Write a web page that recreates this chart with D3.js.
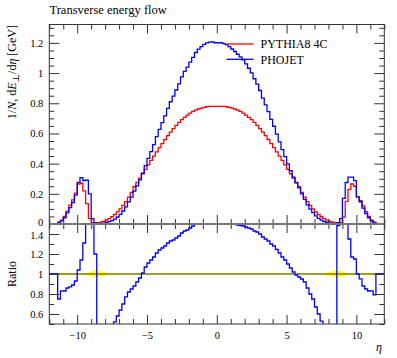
<!DOCTYPE html>
<html><head><meta charset="utf-8">
<script src="https://cdn.jsdelivr.net/npm/d3@7"></script>
<style>body{margin:0;background:#fff} svg{display:block}</style>
</head><body>
<svg id="c" width="397" height="358"></svg>
<script>
// bin edges in eta (0.2 wide)
const etaEdges = [-12,-11.8,-11.6,-11.4,-11.2,-11,-10.8,-10.6,-10.4,-10.2,-10,-9.8,-9.6,-9.4,-9.2,-9,-8.8,-8.6,-8.4,-8.2,
-8,-7.8,-7.6,-7.4,-7.2,-7,-6.8,-6.6,-6.4,-6.2,-6,-5.8,-5.6,-5.4,-5.2,-5,-4.8,-4.6,-4.4,-4.2,
-4,-3.8,-3.6,-3.4,-3.2,-3,-2.8,-2.6,-2.4,-2.2,-2,-1.8,-1.6,-1.4,-1.2,-1,-0.8,-0.6,-0.4,-0.2,
0,0.2,0.4,0.6,0.8,1,1.2,1.4,1.6,1.8,2,2.2,2.4,2.6,2.8,3,3.2,3.4,3.6,3.8,
4,4.2,4.4,4.6,4.8,5,5.2,5.4,5.6,5.8,6,6.2,6.4,6.6,6.8,7,7.2,7.4,7.6,7.8,
8,8.2,8.4,8.6,8.8,9,9.2,9.4,9.6,9.8,10,10.2,10.4,10.6,10.8,11,11.2,11.4,11.6,11.8,12];

const pythia = [0,0,0,0.012,0.025,0.05,0.085,0.125,0.16,0.205,0.265,0.27,0.22,0.135,0.035,0.008,0.006,0.009,0.012,0.018,
0.026,0.036,0.048,0.063,0.08,0.1,0.123,0.148,0.178,0.21,0.247,0.275,0.304,0.333,0.362,0.392,0.421,0.45,0.478,0.506,
0.533,0.56,0.585,0.609,0.632,0.653,0.673,0.691,0.707,0.722,0.735,0.746,0.755,0.762,0.768,0.773,0.777,0.779,0.78,0.78,
0.78,0.78,0.779,0.777,0.773,0.768,0.762,0.755,0.746,0.735,0.722,0.707,0.691,0.673,0.653,0.632,0.609,0.585,0.56,0.533,
0.506,0.478,0.45,0.421,0.392,0.362,0.333,0.304,0.275,0.247,0.21,0.178,0.148,0.123,0.1,0.08,0.063,0.048,0.036,0.026,
0.018,0.012,0.009,0.006,0.01,0.045,0.15,0.23,0.265,0.25,0.18,0.155,0.12,0.082,0.05,0.026,0.012,0,0,0];

const phojet = [0,0,0,0.009,0.0208,0.0415,0.0731,0.1088,0.1424,0.1907,0.2756,0.3078,0.2882,0.29,0.2,0.036,0.0072,0.0027,0.0036,0.0061,
0.0099,0.0151,0.0226,0.0328,0.0464,0.064,0.0861,0.114,0.146,0.1785,0.2174,0.253,0.2918,0.3363,0.3873,0.4351,0.4799,0.5265,0.5784,0.6274,
0.6716,0.7168,0.7664,0.81,0.8469,0.8881,0.9287,0.9743,1.011,1.0397,1.0731,1.1041,1.1363,1.1582,1.175,1.1904,1.2005,1.2055,1.206,1.2012,
1.2012,1.2012,1.1958,1.1888,1.175,1.1597,1.143,1.125,1.1078,1.0878,1.0613,1.0322,1.002,0.9624,0.9273,0.8848,0.8343,0.7898,0.7448,0.6929,
0.6477,0.5951,0.5445,0.4926,0.4469,0.3982,0.353,0.3101,0.2723,0.2396,0.1995,0.1638,0.1273,0.0984,0.075,0.0536,0.0378,0.0254,0.0166,0.0104,
0.0063,0.0036,0.003,0.0089,0.035,0.17,0.275,0.3105,0.31,0.2875,0.18,0.1473,0.1056,0.0697,0.0415,0.0216,0.0095,0,0,0];

const pythiaRelErr = [0,0,0,0.012,0.01,0.008,0.007,0.007,0.007,0.007,0.007,0.007,0.009,0.012,0.02,0.03,0.038,0.035,0.028,0.02,
0.015,0.011,0.008,0.006,0.005,0.003,0.003,0.003,0.003,0.003,0.003,0.003,0.003,0.003,0.003,0.003,0.003,0.003,0.003,0.003,
0.003,0.003,0.003,0.003,0.003,0.003,0.003,0.003,0.003,0.003,0.003,0.003,0.003,0.003,0.003,0.003,0.003,0.003,0.003,0.003,
0.003,0.003,0.003,0.003,0.003,0.003,0.003,0.003,0.003,0.003,0.003,0.003,0.003,0.003,0.003,0.003,0.003,0.003,0.003,0.003,
0.003,0.003,0.003,0.003,0.003,0.003,0.003,0.003,0.003,0.003,0.003,0.003,0.003,0.003,0.003,0.005,0.006,0.008,0.011,0.015,
0.02,0.028,0.035,0.038,0.03,0.02,0.012,0.009,0.007,0.007,0.007,0.007,0.007,0.007,0.008,0.01,0.012,0,0,0];

const seriesNames = ["PYTHIA8 4C", "PHOJET"];
const seriesColors = ["#ff0000", "#0000ff"];
const xTickLabels = [-10, -5, 0, 5, 10];
const xMinorTicks = [-12,-11,-9,-8,-7,-6,-4,-3,-2,-1,1,2,3,4,6,7,8,9,11,12];
const yTickLabels = [0, 0.2, 0.4, 0.6, 0.8, 1, 1.2];
const yMinorTicks = [0.05,0.1,0.15,0.25,0.3,0.35,0.45,0.5,0.55,0.65,0.7,0.75,0.85,0.9,0.95,1.05,1.1,1.15,1.25,1.3];
const ratioTickLabels = [0.6, 0.8, 1, 1.2, 1.4];
const ratioMinorTicks = [0.5,0.7,0.9,1.1,1.3,1.5];

const L = 49.3, R = 384.3, T = 24.5, M = 224, B = 324;
const FONT = "'Liberation Serif', 'DejaVu Serif', serif";
const svg = d3.select("#c");
const x = d3.scaleLinear().domain([-12, 12]).range([L, R]);
const y = d3.scaleLinear().domain([0, 1.322]).range([M, T]);
const yr = d3.scaleLinear().domain([0.5, 1.5]).range([B, M]);

const fmtX = d => d < 0 ? "\u2212" + (-d) : String(d);
const fmtY = d => String(d);

function stepPoints(vals, sy) {
  const pts = [];
  vals.forEach((v, i) => { pts.push([x(etaEdges[i]), sy(v)]); pts.push([x(etaEdges[i + 1]), sy(v)]); });
  return pts;
}
const line = d3.line();

svg.append("defs").append("clipPath").attr("id", "rclip")
  .append("rect").attr("x", L).attr("y", M).attr("width", R - L).attr("height", B - M);

// ratio data
const ratio = phojet.map((v, i) => pythia[i] > 0 ? v / pythia[i] : 1);

// ----- ratio panel -----
const rg = svg.append("g").attr("clip-path", "url(#rclip)");
const bandArea = d3.area().x(d => d[0]).y0(d => d[1]).y1(d => d[2]);
const bandPts = [];
pythiaRelErr.forEach((e, i) => {
  bandPts.push([x(etaEdges[i]), yr(1 - e), yr(1 + e)]);
  bandPts.push([x(etaEdges[i + 1]), yr(1 - e), yr(1 + e)]);
});
rg.append("path").attr("d", bandArea(bandPts)).attr("fill", "#ffff33").attr("stroke", "none");
rg.append("line").attr("x1", L).attr("x2", R).attr("y1", yr(1)).attr("y2", yr(1))
  .attr("stroke", "#7f7f00").attr("stroke-width", 1.3);
rg.append("path").attr("d", line(stepPoints(ratio, yr))).attr("fill", "none")
  .attr("stroke", seriesColors[1]).attr("stroke-width", 1.3);

// ----- main panel -----
[pythia, phojet].forEach((vals, k) => {
  svg.append("path").attr("d", line(stepPoints(vals, y))).attr("fill", "none")
    .attr("stroke", seriesColors[k]).attr("stroke-width", 1.3);
});

// ----- axes (ticks pointing inward) -----
function styleAxis(g) {
  g.select(".domain").remove();
  g.selectAll("line").attr("stroke", "#333").attr("stroke-width", 1);
  g.selectAll("text").attr("font-family", FONT).attr("font-size", 10.5).attr("fill", "#000");
}
function addAxis(axisFn, scale, vals, size, pos, fmt) {
  const a = axisFn(scale).tickValues(vals).tickSize(-size).tickPadding(6)
    .tickFormat(fmt || (() => ""));
  const g = svg.append("g").attr("transform", pos).call(a);
  styleAxis(g);
  return g;
}
// main panel
const yl0 = addAxis(d3.axisLeft, y, yTickLabels, 10, `translate(${L},0)`, fmtY);
yl0.selectAll("text").filter(d => d === 0).attr("dy", "0.1em");
addAxis(d3.axisLeft, y, yMinorTicks, 5, `translate(${L},0)`);
addAxis(d3.axisRight, y, yTickLabels, 10, `translate(${R},0)`);
addAxis(d3.axisRight, y, yMinorTicks, 5, `translate(${R},0)`);
addAxis(d3.axisTop, x, xTickLabels, 9, `translate(0,${T})`);
addAxis(d3.axisTop, x, xMinorTicks, 5, `translate(0,${T})`);
addAxis(d3.axisBottom, x, xTickLabels, 9, `translate(0,${M})`);
addAxis(d3.axisBottom, x, xMinorTicks, 5, `translate(0,${M})`);
// ratio panel
const rl0 = addAxis(d3.axisLeft, yr, ratioTickLabels, 10, `translate(${L},0)`, fmtY);
rl0.selectAll("text").filter(d => d === 1.4).attr("dy", "0.45em");
addAxis(d3.axisLeft, yr, ratioMinorTicks, 5, `translate(${L},0)`);
addAxis(d3.axisRight, yr, ratioTickLabels, 10, `translate(${R},0)`);
addAxis(d3.axisRight, yr, ratioMinorTicks, 5, `translate(${R},0)`);
addAxis(d3.axisTop, x, xTickLabels, 9, `translate(0,${M})`);
addAxis(d3.axisTop, x, xMinorTicks, 5, `translate(0,${M})`);
const xb = addAxis(d3.axisBottom, x, xTickLabels, 9, `translate(0,${B})`, fmtX);
xb.selectAll("text").attr("dy", null).attr("y", 14.5);
addAxis(d3.axisBottom, x, xMinorTicks, 5, `translate(0,${B})`);

// frames
svg.append("rect").attr("x", L).attr("y", T).attr("width", R - L).attr("height", M - T)
  .attr("fill", "none").attr("stroke", "#333").attr("stroke-width", 1);
svg.append("rect").attr("x", L).attr("y", M).attr("width", R - L).attr("height", B - M)
  .attr("fill", "none").attr("stroke", "#333").attr("stroke-width", 1);
svg.append("line").attr("x1", L).attr("x2", R).attr("y1", M).attr("y2", M)
  .attr("stroke", "#777").attr("stroke-width", 2);

// title
svg.append("text").attr("x", 49.5).attr("y", 13.5).attr("font-family", FONT).attr("font-size", 12.5)
  .text("Transverse energy flow");

// y label
const yl = svg.append("text").attr("transform", "translate(15.5,25) rotate(-90)")
  .attr("text-anchor", "end").attr("font-family", FONT).attr("font-size", 12);
yl.append("tspan").text("1/");
yl.append("tspan").attr("font-style", "italic").text("N");
yl.append("tspan").text(", d");
yl.append("tspan").attr("font-style", "italic").text("E");
yl.append("tspan").attr("font-size", 9).attr("dy", 3).text("\u22A5");
yl.append("tspan").attr("dy", -3).text("/d");
yl.append("tspan").attr("font-style", "italic").text("\u03B7");
yl.append("tspan").text(" [GeV]");

svg.append("text").attr("transform", "translate(15.5,274) rotate(-90)").attr("text-anchor", "middle")
  .attr("font-family", FONT).attr("font-size", 12).text("Ratio");

svg.append("text").attr("x", 382).attr("y", 351).attr("text-anchor", "end")
  .attr("font-family", FONT).attr("font-size", 12).attr("font-style", "italic").text("\u03B7");

// legend
seriesNames.forEach((n, k) => {
  const ly = 44 + k * 15.3;
  svg.append("line").attr("x1", 226.5).attr("x2", 253.5).attr("y1", ly).attr("y2", ly)
    .attr("stroke", seriesColors[k]).attr("stroke-width", 1.3);
  svg.append("text").attr("x", 260.5).attr("y", ly + 4.2).attr("font-family", FONT).attr("font-size", 12).text(n);
});
</script>
</body></html>
